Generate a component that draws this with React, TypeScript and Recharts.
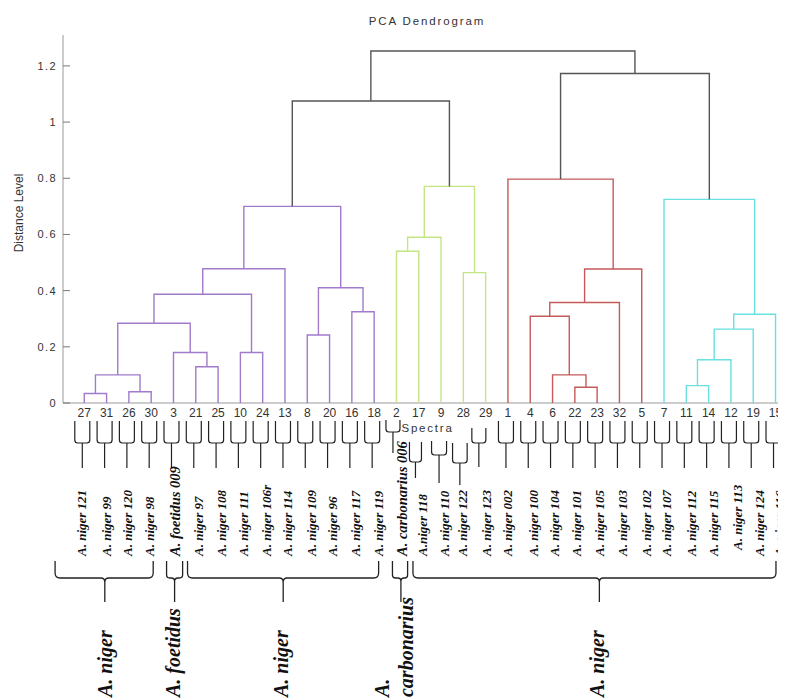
import React from "react"
import { ScatterChart, Scatter, XAxis, YAxis } from "recharts"

// spectra in the order they appear along the bottom of the tree
const leafOrder = [
  "27", "31", "26", "30", "3", "21", "25", "10", "24", "13", "8", "20", "16", "18",
  "2", "17", "9", "28", "29",
  "1", "4", "6", "22", "23", "32", "5",
  "7", "11", "14", "12", "19", "15",
]

// strain name under each spectrum, same order as leafOrder
const strainNames = [
  "A. niger 121", "A. niger 99", "A. niger 120", "A. niger 98", "A. foetidus 009",
  "A. niger 97", "A. niger 108", "A. niger 111", "A. niger 106r", "A. niger 114",
  "A. niger 109", "A. niger 96", "A. niger 117", "A. niger 119",
  "A. carbonarius 006", "A.niger 118", "A. niger 110", "A. niger 122", "A. niger 123",
  "A. niger 002", "A. niger 100", "A. niger 104", "A. niger 101", "A. niger 105",
  "A. niger 103", "A. niger 102",
  "A. niger 107", "A. niger 112", "A. niger 115", "A. niger 113", "A. niger 124", "A. niger 116",
]

// [left, right, distance] - a string is a spectrum, a number is an earlier merge
const merges: [string | number, string | number, number][] = [
  ["27", "31", 0.034], // 0
  ["26", "30", 0.04],  // 1
  [0, 1, 0.1],         // 2
  ["21", "25", 0.129], // 3
  ["3", 3, 0.18],      // 4
  [2, 4, 0.284],       // 5
  ["10", "24", 0.18],  // 6
  [5, 6, 0.387],       // 7
  [7, "13", 0.478],    // 8
  ["8", "20", 0.242],  // 9
  ["16", "18", 0.325], // 10
  [9, 10, 0.41],       // 11
  [8, 11, 0.7],        // 12
  ["2", "17", 0.54],   // 13
  [13, "9", 0.59],     // 14
  ["28", "29", 0.464], // 15
  [14, 15, 0.771],     // 16
  [12, 16, 1.075],     // 17
  ["22", "23", 0.056], // 18
  ["6", 18, 0.1],      // 19
  ["4", 19, 0.309],    // 20
  [20, "32", 0.358],   // 21
  [21, "5", 0.477],    // 22
  ["1", 22, 0.797],    // 23
  ["11", "14", 0.062], // 24
  [24, "12", 0.154],   // 25
  [25, "19", 0.263],   // 26
  [26, "15", 0.316],   // 27
  ["7", 27, 0.725],    // 28
  [23, 28, 1.173],     // 29
  [17, 29, 1.253],     // 30
]

const clusterSizes = [14, 5, 7, 6]
const groupNames = ["A. niger", "A. foetidus", "A. niger", "A. carbonarius", "A. niger"]
const groupSizes = [4, 1, 9, 1, 17]
const distanceTicks = [0, 0.2, 0.4, 0.6, 0.8, 1, 1.2]

// ---- styling / layout ----
const clusterColors = ["#a07bcc", "#c3e583", "#c45a5a", "#6ae0df"]
const TOP_COLOR = "#555"
const CUT = 0.9
const SANS = "'Liberation Sans', Arial, sans-serif"
const SERIF = "'Liberation Serif', 'Times New Roman', serif"

const CHART_W = 778
const CHART_H = 692
const Y_AXIS_W = 55
const X_AXIS_H = 297
const X_MIN = 0.045
const X_MAX = 32.47
const UNIT = (CHART_W - Y_AXIS_W) / (X_MAX - X_MIN)

// little bracket under each number (offsets from the axis line)
const BRACKET_DEFAULT = { dx: -2, half: 7.5, top: 18, bottom: 40, stem: 65 }
const BRACKET_NUDGE: Record<string, typeof BRACKET_DEFAULT> = {
  "2": { dx: -3.5, half: 7, top: 17, bottom: 29, stem: 50 },
  "17": { dx: -3.3, half: 6, top: 39, bottom: 59, stem: 75 },
  "9": { dx: -2, half: 7.5, top: 38, bottom: 52, stem: 80 },
  "28": { dx: -3.5, half: 7.3, top: 40, bottom: 60, stem: 82 },
  "29": { dx: -6.8, half: 7, top: 25, bottom: 40, stem: 64 },
}
const LABEL_DX = [
  -2.6, 0, -1, -1.3, 2, 3.3, 3.4, 3.6, 3.7, 2.4, 4, 3.4, 4.3, 4.3,
  6.2, 4, 4, -0.8, 0.9,
  0, 3.7, 2.4, 2.3, 2.7, 3.7, 4.8,
  2.6, 5.3, 4.6, 7, 6.6, 4.3,
]
// braces in leaf-index units: span, stem, and where each text line sits
const BRACES = [
  { from: -0.31, to: 4.09, stem: 1.92, lines: [1.93] },
  { from: 4.69, to: 5.41, stem: 5.05, lines: [5.0] },
  { from: 5.63, to: 14.2, stem: 9.92, lines: [9.84] },
  { from: 14.82, to: 15.5, stem: 15.2, lines: [14.39, 15.44] },
  { from: 15.74, to: 32.02, stem: 24.1, lines: [24.03] },
]

// ---- build the tree ----
type Node = { x: number; y: number; first: number }
const nodes: Node[] = []
const nodeOf = (c: string | number): Node => {
  if (typeof c === "string") {
    const p = leafOrder.indexOf(c)
    return { x: p + 1, y: 0, first: p }
  }
  return nodes[c]
}
const clusterOf = (pos: number) => {
  let acc = 0
  for (let i = 0; i < clusterSizes.length; i++) {
    acc += clusterSizes[i]
    if (pos < acc) return i
  }
  return clusterSizes.length - 1
}
const links = merges.map(([a, b, h]) => {
  const na = nodeOf(a)
  const nb = nodeOf(b)
  const first = Math.min(na.first, nb.first)
  nodes.push({ x: (na.x + nb.x) / 2, y: h, first })
  return {
    color: h > CUT ? TOP_COLOR : clusterColors[clusterOf(first)],
    points: [
      { x: na.x, y: na.y },
      { x: na.x, y: h },
      { x: nb.x, y: h },
      { x: nb.x, y: nb.y },
    ],
  }
})

const groupStarts: number[] = []
groupSizes.reduce((acc, n) => {
  groupStarts.push(acc)
  return acc + n
}, 0)

function Brace({ g, x, idx, y }: { g: number; x: number; idx: number; y: number }) {
  const b = BRACES[g]
  const px = (u: number) => x + (u - idx) * UNIT
  const x1 = px(b.from)
  const x2 = px(b.to)
  const cx = px(b.stem)
  const top = y + 158
  const bot = y + 175
  const stem = y + 199
  const r = Math.min(5, (x2 - x1) / 5)
  const k = Math.min(4, (x2 - x1) / 5)
  const d =
    `M${x1},${top}V${bot - r}Q${x1},${bot} ${x1 + r},${bot}H${cx - k}` +
    `Q${cx},${bot} ${cx},${bot + k}V${stem}M${cx},${bot + k}Q${cx},${bot} ${cx + k},${bot}` +
    `H${x2 - r}Q${x2},${bot} ${x2},${bot - r}V${top}`
  const name = groupNames[g]
  const parts = b.lines.length > 1 ? [name.slice(0, name.indexOf(" ")), name.slice(name.indexOf(" ") + 1)] : [name]
  return (
    <g>
      <path d={d} fill="none" stroke="#222" strokeWidth={1.3} />
      {parts.map((t, i) => {
        const lx = px(b.lines[i]) + 6.5
        const ly = y + 294
        return (
          <text key={i} x={lx} y={ly} transform={`rotate(-90 ${lx} ${ly})`} fontFamily={SERIF}
            fontWeight="bold" fontStyle="italic" fontSize={20} fill="#111">
            {t}
          </text>
        )
      })}
    </g>
  )
}

function LeafTick(props: any) {
  const { x, y, payload } = props
  const idx = payload.value as number
  const p = idx - 1
  const num = leafOrder[p]
  if (num === undefined) return null
  const bl = BRACKET_NUDGE[num] ?? BRACKET_DEFAULT
  const cx = x + bl.dx
  const h = bl.half
  const top = y + bl.top
  const bot = y + bl.bottom
  const r = 3
  const d =
    `M${cx - h},${top}V${bot - r}Q${cx - h},${bot} ${cx - h + r},${bot}H${cx + h - r}` +
    `Q${cx + h},${bot} ${cx + h},${bot - r}V${top}M${cx},${bot}V${y + bl.stem}`
  const name = strainNames[p]
  const lx = x + LABEL_DX[p] + 4.3
  const ly = y + (num === "12" ? 147 : 153)
  const g = groupStarts.indexOf(p)
  return (
    <g>
      <text x={x} y={y + 14.2} textAnchor="middle" fontFamily={SANS} fontSize={12} fill="#333">
        {num}
      </text>
      {num === "2" && (
        <text x={x + 5} y={y + 29} fontFamily={SANS} fontSize={11.5} letterSpacing={1.8} fill="#333">
          Spectra
        </text>
      )}
      <path d={d} fill="none" stroke="#222" strokeWidth={1.2} />
      <text x={lx} y={ly} transform={`rotate(-90 ${lx} ${ly})`} fontFamily={SERIF} fontWeight="bold"
        fontStyle="italic" fontSize={name.includes("niger") ? 13 : 14.5} fill="#111">
        {name}
      </text>
      {g >= 0 && <Brace g={g} x={x} idx={idx} y={y} />}
    </g>
  )
}

function DistanceTick(props: any) {
  const { x, y, payload } = props
  return (
    <g>
      <line x1={x} x2={x + 7} y1={y} y2={y} stroke="#777" />
      <text x={x - 6} y={y + 4} textAnchor="end" fontFamily={SANS} fontSize={11} letterSpacing={1.4} fill="#333">
        {String(payload.value)}
      </text>
    </g>
  )
}

export default function App() {
  return (
    <div style={{ position: "relative", width: CHART_W, height: CHART_H }}>
      <style>{"html { overflow: hidden; }"}</style>
      <ScatterChart width={CHART_W} height={CHART_H} margin={{ top: 27, right: 0, bottom: 0, left: 0 }}>
        <XAxis
          type="number"
          dataKey="x"
          domain={[X_MIN, X_MAX]}
          allowDataOverflow
          ticks={leafOrder.map((_, i) => i + 1)}
          interval={0}
          height={X_AXIS_H}
          tickLine={false}
          tickSize={0}
          tickMargin={0}
          axisLine={{ stroke: "#999" }}
          tick={<LeafTick />}
        />
        <YAxis
          type="number"
          dataKey="y"
          domain={[0, 1.31]}
          allowDataOverflow
          ticks={distanceTicks}
          width={Y_AXIS_W}
          tickLine={false}
          tickSize={0}
          tickMargin={0}
          axisLine={{ stroke: "#999" }}
          tick={<DistanceTick />}
        />
        {links.map((l, i) => (
          <Scatter
            key={i}
            data={l.points}
            line={{ stroke: l.color, strokeWidth: 1.4 }}
            lineType="joint"
            shape={() => <g />}
            isAnimationActive={false}
          />
        ))}
      </ScatterChart>
      <svg width={CHART_W} height={CHART_H} style={{ position: "absolute", left: 0, top: 0, pointerEvents: "none" }}>
        <text x={419} y={17} textAnchor="middle" fontFamily={SANS} fontSize={11.5} letterSpacing={1.9} fill="#333">
          PCA Dendrogram
        </text>
        <text x={14.5} y={205} transform="rotate(-90 14.5 205)" textAnchor="middle" fontFamily={SANS}
          fontSize={12} fill="#333">
          Distance Level
        </text>
      </svg>
    </div>
  )
}
